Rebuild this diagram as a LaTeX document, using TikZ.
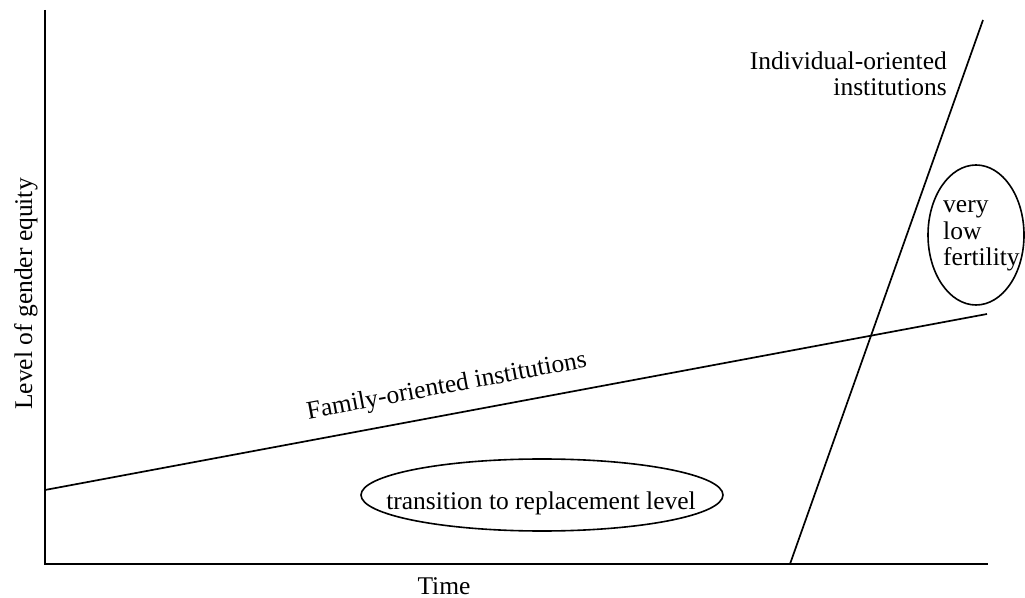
\documentclass[tikz,border=0pt]{standalone}
\usepackage{fontspec}
\setmainfont{Liberation Serif}
\usetikzlibrary{shapes.geometric}
\begin{document}
\begin{tikzpicture}[x=1pt,y=1pt,
  lbl/.style={font=\fontsize{25.5}{25.5}\selectfont, inner sep=0pt},
  axis/.style={line width=2.3pt},
  curve/.style={line width=1.7pt},
  oval/.style={draw, ellipse, line width=1.6pt, inner sep=0pt}]
\useasboundingbox (0,0) rectangle (1025,597);
% axes
\coordinate (O) at (45,33);
\coordinate (Ytop) at (45,587);
\coordinate (Xend) at (988,33);
\draw[axis] (Ytop) -- (O) -- (Xend);
% family-oriented line
\coordinate (F1) at (45,107);
\coordinate (F2) at (987,283);
\draw[curve] (F1) -- (F2);
% individual-oriented line
\coordinate (I1) at (790,33);
\coordinate (I2) at (983,577);
\draw[curve] (I1) -- (I2);
% ellipses
\node[oval, minimum width=362pt, minimum height=72pt] (E1) at (542,102) {};
\node[oval, minimum width=96pt, minimum height=140pt] (E2) at (976,362) {};
% texts
\node[lbl, anchor=base] (T1) at (541,87) {transition to replacement level};
\node[lbl, anchor=west, align=left, font=\fontsize{25.5}{26.5}\selectfont] (T2) at (943,361) {very\\low\\fertility};
\node[lbl, anchor=east, align=right] (T3) at (947,523) {Individual-oriented\\institutions};
\node[lbl, anchor=base, rotate=10.6] (T4) at (448,204) {Family-oriented institutions};
\node[lbl, anchor=base, rotate=90] (T5) at (32,303) {Level of gender equity};
\node[lbl, anchor=base] (T6) at (444,3) {Time};
\end{tikzpicture}
\end{document}
